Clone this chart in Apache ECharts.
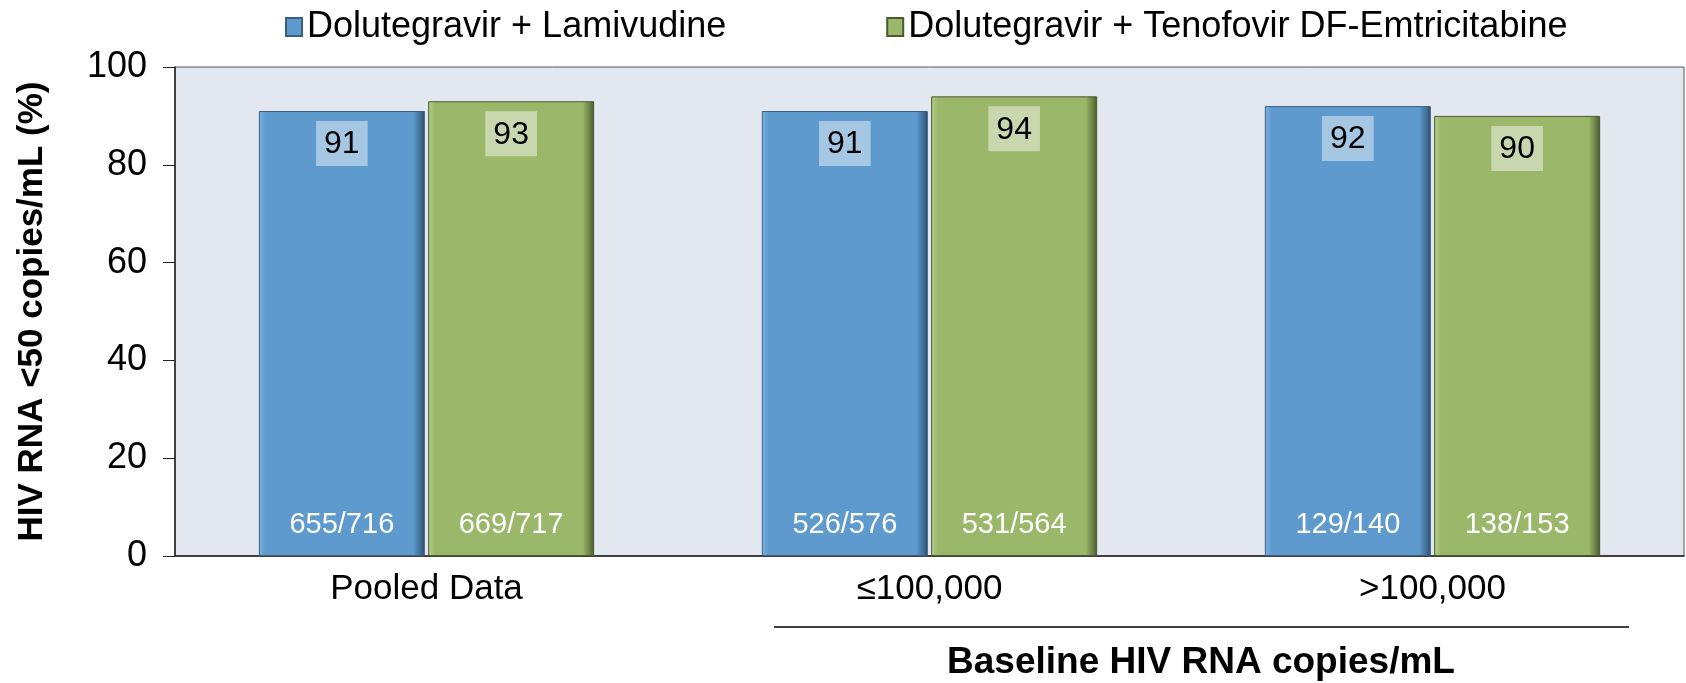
<!DOCTYPE html>
<html>
<head>
    <meta charset="UTF-8">
    <title>HIV RNA &lt;50 copies/mL</title>
    <script src="https://cdn.jsdelivr.net/npm/echarts@6/dist/echarts.min.js"></script>
    <style>
        html, body { margin: 0; padding: 0; background: #fff; }
        #chart { width: 1686px; height: 683px; }
    </style>
</head>
<body>
    <div id="chart"></div>
    <script>
        // data
        const categories = ['Pooled Data', '≤100,000', '>100,000'];
        const seriesNames = ['Dolutegravir + Lamivudine', 'Dolutegravir + Tenofovir DF-Emtricitabine'];
        const dtg3tc = [91, 91, 92];
        const dtgTdf = [93, 94, 90];
        const dtg3tcCounts = ['655/716', '526/576', '129/140'];
        const dtgTdfCounts = ['669/717', '531/564', '138/153'];
        const yTicks = [0, 20, 40, 60, 80, 100];
        const groupTitle = 'Baseline HIV RNA copies/mL';

        const FONT = '"Liberation Sans", Arial, sans-serif';

        // bevel-ish fill: light left edge, dark right edge
        function bevel(light, main, dark, darker) {
            return new echarts.graphic.LinearGradient(0, 0, 1, 0, [
                { offset: 0, color: light },
                { offset: 0.04, color: main },
                { offset: 0.93, color: main },
                { offset: 0.97, color: dark },
                { offset: 1, color: darker }
            ]);
        }
        const blueFill = bevel('#7DB3E0', '#5E9ACD', '#43719A', '#2E4E6C');
        const greenFill = bevel('#B5D08A', '#9BB76A', '#6E8447', '#475A2C');

        const valueLabel = {
            show: true,
            position: 'insideTop',
            distance: 10,
            color: '#000',
            fontFamily: FONT,
            fontSize: 32,
            lineHeight: 35,
            padding: [6, 8, 4, 8],
            backgroundColor: 'rgba(255,255,255,0.45)'
        };

        function countLabel(list) {
            return {
                show: true,
                position: 'insideBottom',
                distance: 17,
                color: '#fff',
                fontFamily: FONT,
                fontSize: 29,
                formatter: p => list[p.dataIndex]
            };
        }

        const chart = echarts.init(document.getElementById('chart'));

        const option = {
            animation: false,
            textStyle: { fontFamily: FONT },
            legend: {
                data: seriesNames,
                left: 280,
                top: 4,
                itemWidth: 16,
                itemHeight: 18,
                itemGap: 160,
                icon: 'rect',
                textStyle: { fontSize: 36, color: '#000', fontFamily: FONT }
            },
            grid: {
                left: 175,
                right: 2,
                top: 67,
                bottom: 127,
                show: true,
                backgroundColor: '#E3E7F0',
                borderColor: '#555',
                borderWidth: 1
            },
            xAxis: [
                {
                    type: 'category',
                    data: categories,
                    axisLine: { lineStyle: { color: '#222', width: 1.5 } },
                    axisTick: { length: 12, lineStyle: { color: '#222' } },
                    axisLabel: { color: '#000', fontSize: 35, margin: 16, fontFamily: FONT }
                },
                {
                    // hidden twin axis so the count labels sit on their own bars
                    type: 'category',
                    data: categories,
                    show: false
                }
            ],
            yAxis: {
                type: 'value',
                min: yTicks[0],
                max: yTicks[yTicks.length - 1],
                interval: yTicks[1] - yTicks[0],
                name: 'HIV RNA <50 copies/mL (%)',
                nameLocation: 'middle',
                nameGap: 125,
                nameTextStyle: { fontSize: 35, fontWeight: 'bold', color: '#000', fontFamily: FONT },
                axisLine: { show: true, lineStyle: { color: '#222', width: 1.5 } },
                axisTick: { show: true, length: 12, lineStyle: { color: '#222' } },
                axisLabel: { color: '#000', fontSize: 36, margin: 28, fontFamily: FONT },
                splitLine: { show: false }
            },
            series: [
                {
                    name: seriesNames[0],
                    type: 'bar',
                    data: dtg3tc,
                    barWidth: '33%',
                    barGap: '2%',
                    itemStyle: { color: blueFill, borderColor: '#3A5F80', borderWidth: 1 },
                    label: valueLabel
                },
                {
                    name: seriesNames[1],
                    type: 'bar',
                    data: dtgTdf,
                    barWidth: '33%',
                    barGap: '2%',
                    itemStyle: { color: greenFill, borderColor: '#4A5A30', borderWidth: 1 },
                    label: valueLabel
                },
                {
                    name: 'counts-a',
                    type: 'bar',
                    xAxisIndex: 1,
                    data: dtg3tc,
                    barWidth: '33%',
                    barGap: '2%',
                    silent: true,
                    itemStyle: { color: 'rgba(0,0,0,0)' },
                    label: countLabel(dtg3tcCounts),
                    z: 5
                },
                {
                    name: 'counts-b',
                    type: 'bar',
                    xAxisIndex: 1,
                    data: dtgTdf,
                    barWidth: '33%',
                    barGap: '2%',
                    silent: true,
                    itemStyle: { color: 'rgba(0,0,0,0)' },
                    label: countLabel(dtgTdfCounts),
                    z: 5
                }
            ],
            graphic: [
                {
                    type: 'line',
                    shape: { x1: 774, y1: 627, x2: 1629, y2: 627 },
                    style: { stroke: '#000', lineWidth: 1.5 }
                },
                {
                    type: 'text',
                    x: 1201,
                    y: 663,
                    style: {
                        text: groupTitle,
                        fill: '#000',
                        font: 'bold 37px ' + FONT,
                        textAlign: 'center',
                        textVerticalAlign: 'middle'
                    }
                }
            ]
        };

        chart.setOption(option);
        window.addEventListener('resize', () => chart.resize());
    </script>
</body>
</html>
